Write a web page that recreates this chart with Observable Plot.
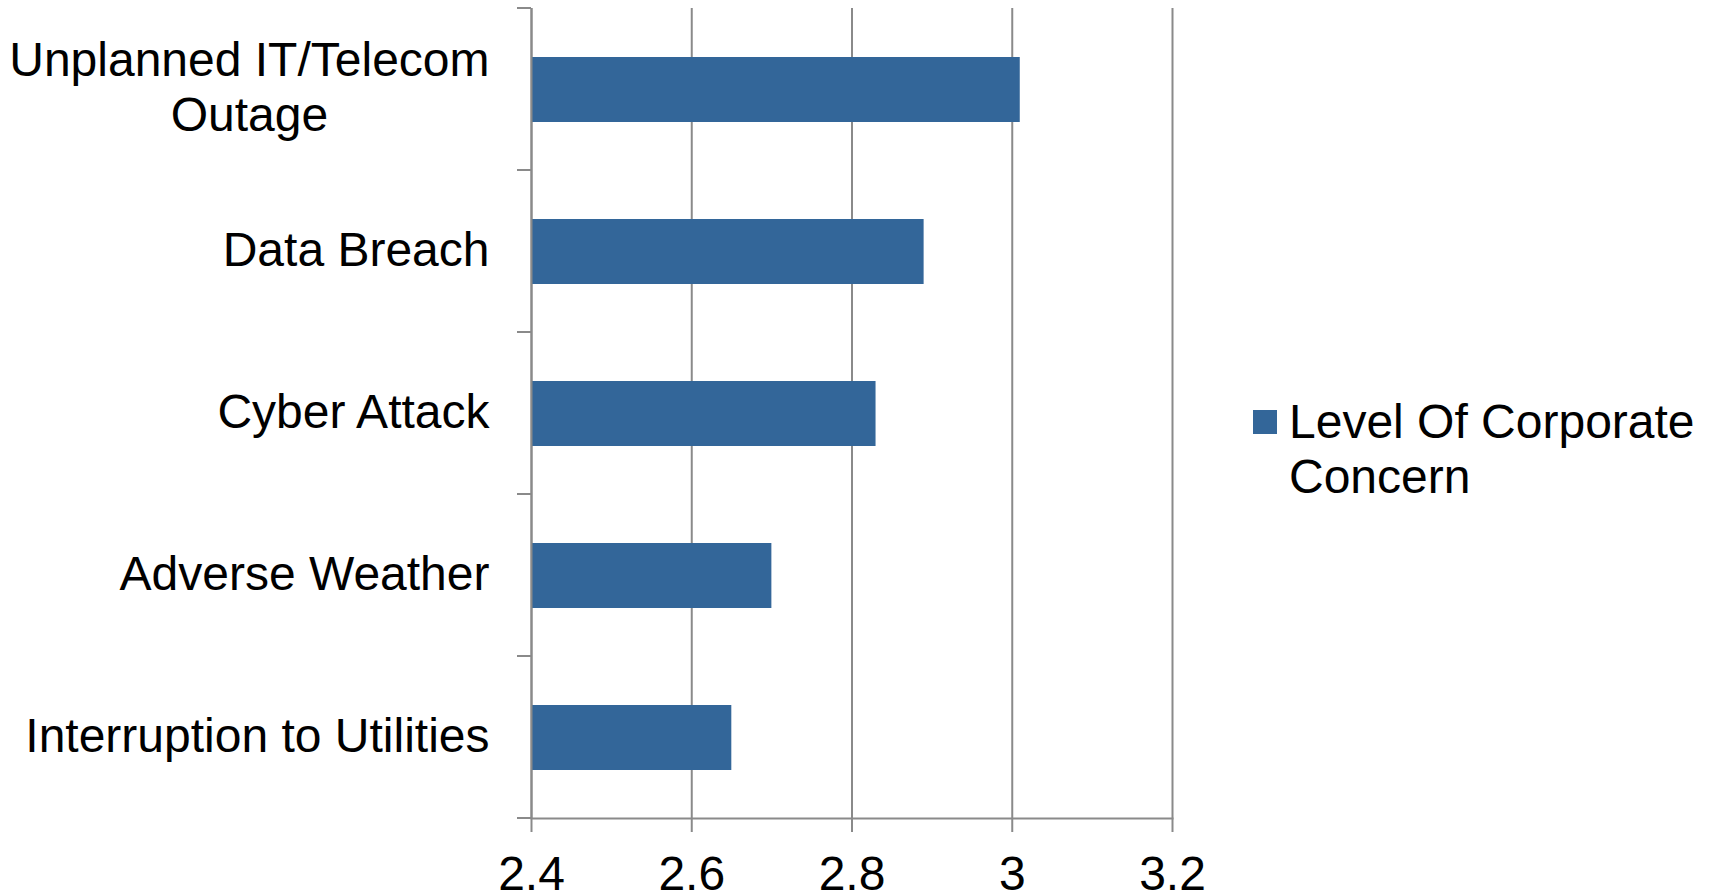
<!DOCTYPE html>
<html>
<head>
<meta charset="utf-8">
<script src="https://cdn.jsdelivr.net/npm/d3@7"></script>
<script src="https://cdn.jsdelivr.net/npm/@observablehq/plot@0.6"></script>
<style>
  html, body { margin: 0; padding: 0; background: #fff; }
  #wrap { position: relative; width: 1709px; height: 896px; font-family: "Liberation Sans", Arial, sans-serif; }
  #legend-swatch { position: absolute; left: 1253px; top: 410px; width: 24px; height: 24px; background: #336699; }
  #legend-text { position: absolute; left: 1289px; top: 394px; width: 418px; font-size: 48px; line-height: 55px; color: #000; }
</style>
</head>
<body>
<div id="wrap"></div>
<script>
const categories = ["Unplanned IT/Telecom\nOutage", "Data Breach", "Cyber Attack", "Adverse Weather", "Interruption to Utilities"];
const values = [3.01, 2.89, 2.83, 2.70, 2.65];
const xTicks = [2.4, 2.6, 2.8, 3.0, 3.2];
const seriesName = "Level Of Corporate Concern";

const data = categories.map((c, i) => ({category: c, value: values[i]}));
const gray = "#8a8a8a";
const font = "Liberation Sans, Arial, sans-serif";

// band-boundary tick marks on the category axis (Excel style)
function categoryTicks(index, scales, values, dimensions) {
  const {marginTop, marginBottom, marginLeft, height} = dimensions;
  const n = categories.length;
  const step = (height - marginTop - marginBottom) / n;
  const g = d3.create("svg:g");
  for (let i = 0; i <= n; i++) {
    const y = marginTop + i * step;
    g.append("line")
      .attr("x1", marginLeft - 14).attr("x2", marginLeft)
      .attr("y1", y).attr("y2", y)
      .attr("stroke", gray).attr("stroke-width", 2);
  }
  return g.node();
}

const chart = Plot.plot({
  width: 1709,
  height: 896,
  marginLeft: 531,
  marginRight: 537,
  marginTop: 8,
  marginBottom: 78,
  style: {fontFamily: font, background: "white", color: "#000"},
  x: {domain: [2.4, 3.2]},
  y: {type: "band", domain: categories, paddingInner: 0.6, paddingOuter: 0.3},
  marks: [
    Plot.gridX(xTicks, {stroke: gray, strokeOpacity: 1, strokeWidth: 2}),
    Plot.barX(data, {y: "category", x1: () => xTicks[0], x2: "value", fill: "#336699"}),
    Plot.ruleX([xTicks[0]], {stroke: gray, strokeWidth: 2}),
    Plot.frame({anchor: "bottom", stroke: gray, strokeWidth: 2}),
    categoryTicks,
    Plot.axisX(xTicks, {anchor: "bottom", tickSize: 14, tickPadding: 23, fontSize: 48, stroke: gray, strokeWidth: 2, label: null, tickFormat: d => String(d), fill: "#000"}),
    Plot.axisY({anchor: "left", tickSize: 0, tickPadding: 42, fontSize: 48, lineHeight: 1.15, dy: -4, label: null, fill: "#000"})
  ]
});

const wrap = document.getElementById("wrap");
wrap.appendChild(chart);

// center multi-line category labels relative to each other, keeping the right edge
chart.querySelectorAll('g[aria-label="y-axis tick label"] text').forEach(t => {
  if (t.querySelectorAll("tspan").length > 1) {
    const w = t.getBBox().width;
    t.setAttribute("text-anchor", "middle");
    const tr = t.getAttribute("transform") || "";
    t.setAttribute("transform", tr + ` translate(${-w / 2},0)`);
  }
});

const sw = document.createElement("div");
sw.id = "legend-swatch";
const lt = document.createElement("div");
lt.id = "legend-text";
lt.textContent = seriesName;
wrap.appendChild(sw);
wrap.appendChild(lt);
</script>
</body>
</html>
